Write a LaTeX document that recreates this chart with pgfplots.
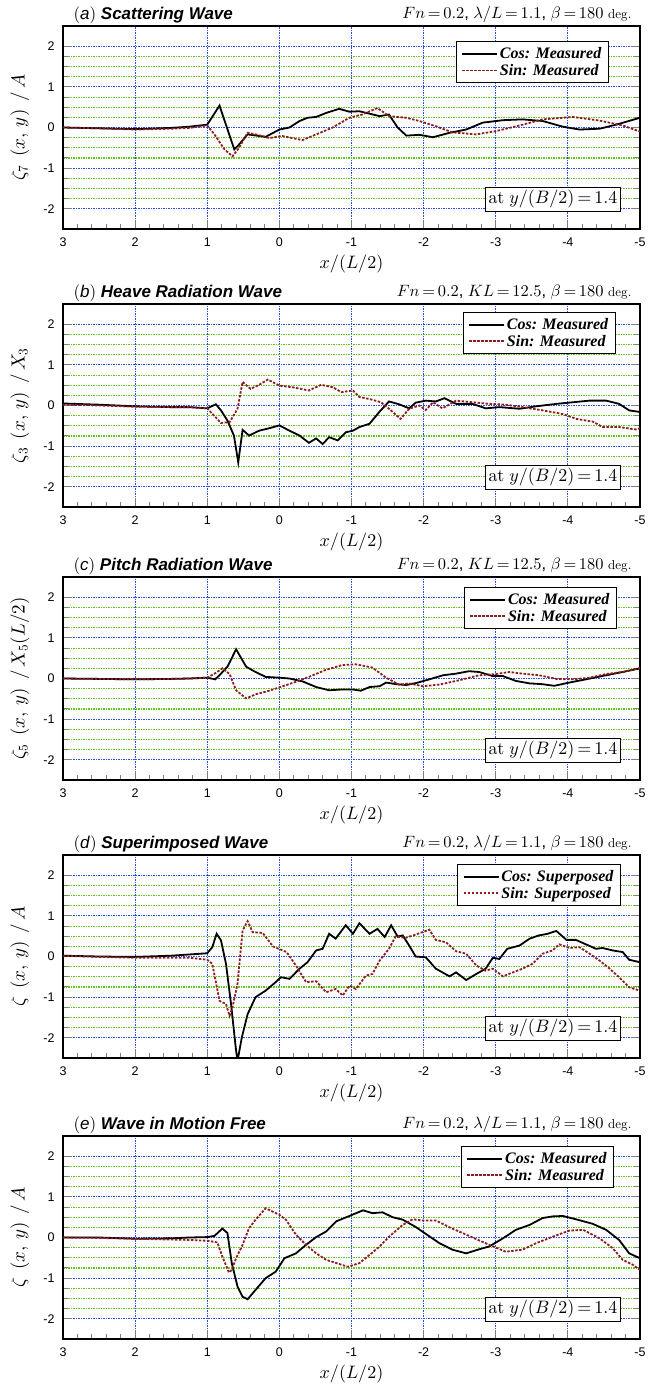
\documentclass[border=0pt]{standalone}
\usepackage[no-math]{fontspec}
\setmainfont{Liberation Sans}
\newfontfamily\legfont{Liberation Serif}
% scalable Computer Modern math at any size
\DeclareFontFamily{OML}{cmm}{\skewchar\font127 }
\DeclareFontShape{OML}{cmm}{m}{it}{<->cmmi10}{}
\DeclareFontFamily{OT1}{cmr}{\hyphenchar\font45 }
\DeclareFontShape{OT1}{cmr}{m}{n}{<->cmr10}{}
\DeclareFontFamily{OMS}{cmsy}{\skewchar\font48 }
\DeclareFontShape{OMS}{cmsy}{m}{n}{<->cmsy10}{}
\usepackage{pgfplots}
\pgfplotsset{compat=1.18}

\definecolor{sinred}{RGB}{139,30,30}
\definecolor{gridblue}{RGB}{40,80,225}
\definecolor{gridgreen}{RGB}{95,200,25}

\pgfplotsset{
  panel/.style={
    scale only axis, width=577pt, height=203pt, anchor=north west,
    x dir=reverse, xmin=-5, xmax=3, ymin=-2.5, ymax=2.5,
    xtick={-5,-4,...,3}, ytick={-2,-1,...,2},
    minor x tick num=4, minor y tick num=3,
    xtick pos=bottom, ytick pos=both, tick align=inside,
    xmajorgrids, ymajorgrids, yminorgrids,
    every major grid/.style={color=gridblue, line width=1.1pt, dash pattern=on 1.5pt off 1pt},
    every minor grid/.style={color=gridgreen, line width=1.1pt, dash pattern=on 1.5pt off 1pt},
    axis line style={line width=1.6pt},
    tick style={line width=1pt},
    major tick length=9pt, minor tick length=5pt,
    ticklabel style={font=\fontsize{12.5}{12.5}\selectfont},
    /pgf/number format/assume math mode=true,
    xticklabel style={yshift=-5pt}, yticklabel style={xshift=-5pt},
    every axis x label/.style={at={(rel axis cs:0.5,0)}, yshift=-35pt, anchor=center, font=\fontsize{18}{18}\selectfont},
    every axis y label/.style={at={(rel axis cs:0,0.5)}, xshift=-43pt, rotate=90, anchor=center, font=\fontsize{19}{19}\selectfont},
    xlabel={$x/(L/2)$},
    legend style={legend cell align=left, draw=black, line width=1pt, fill=white,
      font=\legfont\bfseries\itshape\fontsize{16}{19}\selectfont,
      inner xsep=5pt, inner ysep=4pt, anchor=north east},
    legend image code/.code={\draw[#1, line width=1.8pt] (0pt,0pt) -- (35pt,0pt);},
  },
  cosline/.style={black, line width=1.8pt},
  sinline/.style={sinred, line width=1.8pt, dash pattern=on 2.5pt off 1.5pt},
}
\tikzset{atbox/.style={draw, line width=1pt, fill=white, anchor=south east, inner sep=3pt, font=\fontsize{18}{18}\selectfont}}
\newcommand{\atnote}{\node[atbox] at (rel axis cs:0.967,0.084) {$\mathrm{at}\ y/(B/2)\,{=}\,1.4$};}
\newcommand{\lefttitle}[3]{\node[anchor=base west, font=\fontsize{17}{17}\selectfont\bfseries\itshape] at ([xshift=7pt,yshift=7pt]#1.north west) {\mdseries\upshape$($\textit{#2}$)$\ \bfseries\itshape #3};}
\newcommand{\righttitle}[2]{\node[anchor=base east, font=\fontsize{16.4}{16.4}\selectfont] at ([xshift=-5pt,yshift=8pt]#1.north east) {#2};}
\newcommand{\degunit}{{\fontsize{13}{13}\selectfont$\mathrm{deg.}$}}
\newcommand{\ylab}[2]{$\zeta#1\;\left(x,\,y\right)\;/\,#2$}

\begin{document}
\begin{tikzpicture}
\useasboundingbox (0pt,0pt) rectangle (663pt,-1387pt);

% (a)
\begin{axis}[panel, name=pa, at={(63pt,-26pt)},
  ylabel={\ylab{_7}{A}},
  legend style={at={(rel axis cs:0.946,0.926)}}]
\addplot[cosline] coordinates {
(3,0) (2.5,-0.02) (2,-0.04) (1.5,-0.01) (1.25,0.02) (1,0.07) (0.83,0.54) (0.625,-0.54)
(0.56,-0.42) (0.44,-0.17) (0.19,-0.23) (0,-0.05) (-0.14,0) (-0.28,0.16) (-0.39,0.24)
(-0.51,0.26) (-0.65,0.36) (-0.83,0.46) (-0.97,0.39) (-1.11,0.4) (-1.39,0.28) (-1.52,0.32)
(-1.64,0) (-1.76,-0.2) (-1.94,-0.18) (-2.13,-0.24) (-2.36,-0.13) (-2.59,-0.05) (-2.82,0.12)
(-3.1,0.18) (-3.37,0.2) (-3.65,0.16) (-3.93,0.02) (-4.16,-0.05) (-4.44,-0.03) (-4.67,0.07)
(-5,0.24)};
\addplot[sinline] coordinates {
(3,0) (2.5,-0.02) (2,-0.05) (1.5,-0.03) (1.25,-0.01) (1,0.05) (0.9,-0.17) (0.76,-0.54)
(0.65,-0.71) (0.56,-0.5) (0.44,-0.13) (0.33,-0.17) (0.14,-0.26) (-0.04,-0.21) (-0.32,-0.31)
(-0.51,-0.17) (-0.74,0) (-0.97,0.24) (-1.15,0.32) (-1.36,0.48) (-1.52,0.28) (-1.76,0.24)
(-1.94,0.16) (-2.17,0.03) (-2.4,-0.12) (-2.73,-0.17) (-3.0,-0.09) (-3.33,0.05) (-3.65,0.2)
(-4.07,0.26) (-4.44,0.17) (-4.76,0.05) (-5,-0.1)};
\legend{Cos: Measured, Sin: Measured}
\atnote
\end{axis}
\lefttitle{pa}{a}{Scattering Wave}
\righttitle{pa}{$Fn\,{=}\,0.2$, $\lambda/L\,{=}\,1.1$, $\beta\,{=}\,180$ \degunit}

% (b)
\begin{axis}[panel, name=pb, at={(63pt,-304pt)},
  ylabel={\ylab{_3}{X_3}},
  legend style={at={(rel axis cs:0.958,0.961)}}]
\addplot[cosline] coordinates {
(3,0.05) (2.5,0.02) (2,-0.02) (1.5,-0.04) (1.25,-0.04) (1,-0.07) (0.88,0.03) (0.81,-0.12)
(0.72,-0.37) (0.63,-0.74) (0.57,-1.4) (0.51,-0.6) (0.42,-0.74) (0.28,-0.62) (0.14,-0.56)
(0,-0.49) (-0.14,-0.62) (-0.28,-0.74) (-0.41,-0.92) (-0.51,-0.81) (-0.6,-0.95) (-0.69,-0.78)
(-0.81,-0.86) (-0.92,-0.66) (-1.02,-0.62) (-1.11,-0.53) (-1.25,-0.45) (-1.39,-0.15)
(-1.52,0.1) (-1.66,0.03) (-1.8,-0.07) (-1.89,0.07) (-2.03,0.12) (-2.17,0.1) (-2.29,0.18)
(-2.45,0.04) (-2.68,0.04) (-2.86,-0.07) (-3.05,-0.04) (-3.33,-0.08) (-3.56,-0.02)
(-3.84,0.04) (-4.07,0.08) (-4.3,0.12) (-4.53,0.12) (-4.71,0.04) (-4.85,-0.12) (-5,-0.16)};
\addplot[sinline] coordinates {
(3,0.02) (2.5,0) (2,-0.03) (1.5,-0.04) (1.25,-0.04) (1,-0.07) (0.81,-0.43) (0.69,-0.41)
(0.58,-0.08) (0.51,0.58) (0.4,0.41) (0.28,0.51) (0.16,0.64) (0,0.49) (-0.18,0.45)
(-0.41,0.37) (-0.58,0.51) (-0.74,0.45) (-0.86,0.33) (-1.02,0.37) (-1.11,0.21) (-1.27,0.15)
(-1.41,0.08) (-1.52,-0.08) (-1.68,-0.33) (-1.8,-0.08) (-1.94,0) (-2.03,-0.11) (-2.13,0.08)
(-2.26,-0.07) (-2.45,0.12) (-2.68,0.08) (-2.91,0.04) (-3.14,0.02) (-3.37,-0.04)
(-3.65,-0.12) (-3.93,-0.21) (-4.12,-0.33) (-4.35,-0.4) (-4.48,-0.53) (-4.71,-0.53)
(-4.94,-0.59) (-5,-0.56)};
\legend{Cos: Measured, Sin: Measured}
\atnote
\end{axis}
\lefttitle{pb}{b}{Heave Radiation Wave}
\righttitle{pb}{$Fn\,{=}\,0.2$, $KL\,{=}\,12.5$, $\beta\,{=}\,180$ \degunit}

% (c)
\begin{axis}[panel, name=pc, at={(63pt,-577pt)},
  ylabel={\ylab{_5}{X_5(L/2)}},
  legend style={at={(rel axis cs:0.960,0.951)}}]
\addplot[cosline] coordinates {
(3,0) (2.5,-0.01) (2,-0.02) (1.5,-0.01) (1.25,0) (1,0.02) (0.89,-0.02) (0.81,0.12)
(0.72,0.29) (0.6,0.72) (0.46,0.29) (0.33,0.16) (0.19,0.04) (0,0.02) (-0.14,0) (-0.32,-0.07)
(-0.51,-0.21) (-0.69,-0.29) (-0.87,-0.27) (-1.02,-0.27) (-1.13,-0.3) (-1.25,-0.21)
(-1.39,-0.19) (-1.48,-0.1) (-1.62,-0.14) (-1.76,-0.16) (-1.9,-0.11) (-2.08,-0.02)
(-2.27,0.08) (-2.45,0.12) (-2.63,0.18) (-2.77,0.16) (-2.96,0.06) (-3.1,0.06) (-3.28,-0.06)
(-3.47,-0.12) (-3.65,-0.14) (-3.81,-0.18) (-4.02,-0.1) (-4.25,-0.02) (-4.53,0.08)
(-4.76,0.16) (-5,0.25)};
\addplot[sinline] coordinates {
(3,0) (2.5,-0.01) (2,-0.02) (1.5,-0.01) (1.25,0) (1,0.02) (0.88,0.14) (0.79,0.25)
(0.69,0.11) (0.6,-0.29) (0.46,-0.49) (0.33,-0.39) (0.14,-0.3) (0,-0.22) (-0.23,-0.08)
(-0.41,0.04) (-0.64,0.21) (-0.87,0.33) (-1.06,0.35) (-1.29,0.27) (-1.48,0.02) (-1.66,-0.15)
(-1.8,-0.12) (-1.99,-0.19) (-2.22,-0.15) (-2.5,-0.04) (-2.77,0.08) (-3.0,0.11) (-3.19,0.16)
(-3.37,0.12) (-3.6,0.08) (-3.84,-0.01) (-4.07,-0.02) (-4.3,0.02) (-4.53,0.11) (-4.76,0.16)
(-5,0.26)};
\legend{Cos: Measured, Sin: Measured}
\atnote
\end{axis}
\lefttitle{pc}{c}{Pitch Radiation Wave}
\righttitle{pc}{$Fn\,{=}\,0.2$, $KL\,{=}\,12.5$, $\beta\,{=}\,180$ \degunit}

% (d)
\begin{axis}[panel, name=pd, at={(63pt,-855pt)},
  ylabel={\ylab{}{A}},
  legend style={at={(rel axis cs:0.967,0.956)}}]
\addplot[cosline] coordinates {
(3,0.02) (2.5,0) (2,-0.01) (1.5,0.02) (1.25,0.05) (1,0.08) (0.93,0.23) (0.87,0.56)
(0.81,0.4) (0.74,-0.18) (0.67,-1.17) (0.6,-2.32) (0.58,-2.57) (0.52,-1.99) (0.44,-1.42)
(0.33,-1.0) (0.19,-0.84) (0.05,-0.63) (-0.02,-0.51) (-0.14,-0.55) (-0.28,-0.3) (-0.39,-0.14)
(-0.51,0.15) (-0.6,0.19) (-0.69,0.56) (-0.78,0.44) (-0.92,0.77) (-1.02,0.56) (-1.11,0.82)
(-1.25,0.56) (-1.36,0.68) (-1.46,0.48) (-1.55,0.77) (-1.64,0.49) (-1.71,0.52) (-1.8,0.27)
(-1.89,0) (-2.03,-0.02) (-2.17,-0.3) (-2.36,-0.49) (-2.45,-0.39) (-2.59,-0.58)
(-2.73,-0.43) (-2.86,-0.3) (-2.96,-0.03) (-3.05,-0.06) (-3.16,0.19) (-3.33,0.27)
(-3.47,0.44) (-3.6,0.52) (-3.72,0.56) (-3.84,0.63) (-3.98,0.41) (-4.11,0.41) (-4.25,0.3)
(-4.39,0.19) (-4.48,0.21) (-4.62,0.15) (-4.76,0.11) (-4.85,-0.08) (-5,-0.14)};
\addplot[sinline] coordinates {
(3,0.02) (2.5,-0.01) (2,-0.03) (1.5,-0.03) (1.25,-0.03) (1,-0.08) (0.93,-0.18) (0.83,-1.09)
(0.74,-1.17) (0.69,-1.46) (0.65,-1.25) (0.58,-0.67) (0.51,0.64) (0.44,0.87) (0.37,0.6)
(0.23,0.58) (0.09,0.25) (-0.1,0.11) (-0.24,-0.25) (-0.37,-0.63) (-0.51,-0.61) (-0.65,-0.88)
(-0.78,-0.8) (-0.88,-0.96) (-0.97,-0.72) (-1.06,-0.8) (-1.2,-0.47) (-1.29,-0.43)
(-1.39,-0.1) (-1.52,0.19) (-1.61,0.49) (-1.75,0.46) (-1.89,0.54) (-2.08,0.66) (-2.17,0.41)
(-2.31,0.35) (-2.45,0.13) (-2.59,0.07) (-2.73,-0.22) (-2.86,-0.35) (-2.96,-0.3)
(-3.1,-0.49) (-3.24,-0.39) (-3.37,-0.3) (-3.51,-0.18) (-3.65,0.07) (-3.79,0.15)
(-3.88,0.3) (-4.02,0.21) (-4.16,0.23) (-4.3,0.07) (-4.44,-0.1) (-4.58,-0.3) (-4.71,-0.51)
(-4.85,-0.76) (-5,-0.84)};
\legend{Cos: Superposed, Sin: Superposed}
\atnote
\end{axis}
\lefttitle{pd}{d}{Superimposed Wave}
\righttitle{pd}{$Fn\,{=}\,0.2$, $\lambda/L\,{=}\,1.1$, $\beta\,{=}\,180$ \degunit}

% (e)
\begin{axis}[panel, name=pe, at={(63pt,-1136pt)},
  ylabel={\ylab{}{A}},
  legend style={at={(rel axis cs:0.955,0.951)}}]
\addplot[cosline] coordinates {
(3,0) (2.5,0) (2,-0.03) (1.5,-0.02) (1.25,0) (1,0.01) (0.9,0.04) (0.79,0.22) (0.72,0.11)
(0.66,-0.63) (0.58,-1.21) (0.51,-1.46) (0.44,-1.52) (0.33,-1.29) (0.19,-1.0) (0.05,-0.84)
(-0.07,-0.51) (-0.23,-0.39) (-0.37,-0.18) (-0.51,0.01) (-0.65,0.15) (-0.79,0.4)
(-0.97,0.53) (-1.16,0.67) (-1.29,0.6) (-1.43,0.62) (-1.57,0.5) (-1.71,0.44) (-1.89,0.26)
(-2.03,0.09) (-2.22,-0.14) (-2.4,-0.3) (-2.59,-0.39) (-2.77,-0.29) (-2.91,-0.22)
(-3.1,-0.02) (-3.28,0.19) (-3.47,0.31) (-3.65,0.48) (-3.79,0.52) (-3.93,0.53) (-4.11,0.45)
(-4.34,0.34) (-4.53,0.19) (-4.71,-0.06) (-4.85,-0.39) (-5,-0.51)};
\addplot[sinline] coordinates {
(3,0) (2.5,-0.01) (2,-0.03) (1.5,-0.05) (1.25,-0.06) (1,-0.08) (0.86,-0.12) (0.79,-0.47)
(0.7,-0.86) (0.66,-0.8) (0.6,-0.51) (0.51,-0.18) (0.42,0.23) (0.33,0.44) (0.19,0.72)
(0,0.56) (-0.09,0.44) (-0.23,0.07) (-0.37,-0.18) (-0.51,-0.39) (-0.65,-0.55) (-0.79,-0.63)
(-0.95,-0.72) (-1.11,-0.63) (-1.25,-0.43) (-1.39,-0.22) (-1.52,0.02) (-1.71,0.31)
(-1.85,0.45) (-1.98,0.42) (-2.17,0.42) (-2.36,0.25) (-2.54,0.11) (-2.73,-0.04)
(-2.91,-0.18) (-3.14,-0.35) (-3.37,-0.3) (-3.56,-0.14) (-3.79,0.02) (-4.02,0.17)
(-4.21,0.19) (-4.44,-0.02) (-4.62,-0.26) (-4.76,-0.55) (-4.9,-0.67) (-5,-0.8)};
\legend{Cos: Measured, Sin: Measured}
\atnote
\end{axis}
\lefttitle{pe}{e}{Wave in Motion Free}
\righttitle{pe}{$Fn\,{=}\,0.2$, $\lambda/L\,{=}\,1.1$, $\beta\,{=}\,180$ \degunit}

\end{tikzpicture}
\end{document}
